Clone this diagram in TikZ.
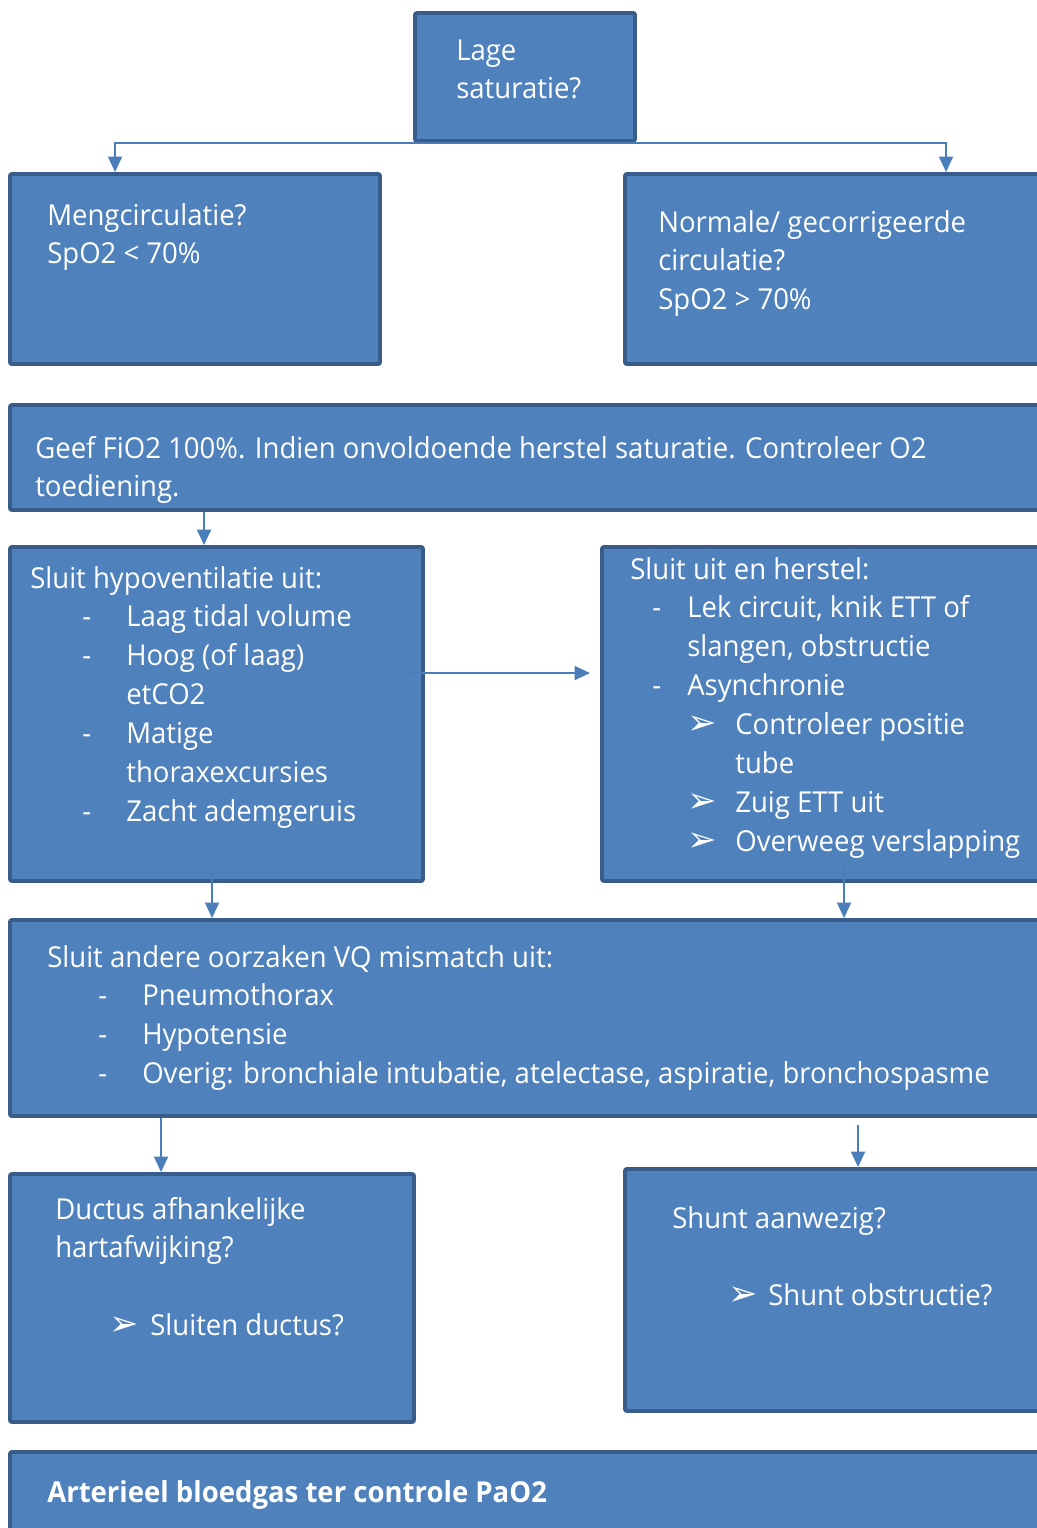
\documentclass[tikz,border=0pt]{standalone}
\usepackage{fontspec}
\setmainfont[FakeStretch=0.955]{Open Sans}
\newfontfamily\symfont{DejaVu Sans}
\usetikzlibrary{arrows.meta,positioning,calc,fit}
\definecolor{boxFill}{HTML}{4F81BD}
\definecolor{boxLine}{HTML}{385D8A}
\definecolor{connColor}{HTML}{4A7EBB}
\newcommand{\pijl}{{\symfont\fontsize{25}{27.7}\selectfont\char"27A2}}
\tikzset{
	flowbox/.style={draw=boxLine, fill=boxFill, line width=2.8pt, rounded corners=1.5pt, inner sep=0pt},
	boxtext/.style={text=white, inner sep=0pt, anchor=base west, font=\fontsize{20.5}{27.7}\selectfont},
	conn/.style={draw=connColor, line width=1.2pt, -{Triangle[width=10pt,length=11pt]}}
}

\begin{document}
\begin{tikzpicture}[x=0.025cm, y=-0.025cm]
	\useasboundingbox (0,0) rectangle (1037,1528);
	\clip (0,0) rectangle (1037,1528);
	% boxes
	\node[flowbox, fit={(415,13)(635,141)}] (lage) {};
	\node[flowbox, fit={(10,174)(380,364)}] (meng) {};
	\node[flowbox, fit={(625,174)(1050,364)}] (normaal) {};
	\node[flowbox, fit={(10,405)(1050,510)}] (geef) {};
	\node[flowbox, fit={(10,547)(423,881)}] (hypo) {};
	\node[flowbox, fit={(602,547)(1050,881)}] (uit) {};
	\node[flowbox, fit={(10,920)(1050,1116)}] (andere) {};
	\node[flowbox, fit={(10,1174)(414,1422)}] (ductus) {};
	\node[flowbox, fit={(625,1169)(1050,1411)}] (shunt) {};
	\node[flowbox, fit={(10,1452)(1050,1540)}] (abg) {};
	% texts
	\node[boxtext] (lageT) at (456,60) {\begin{tabular}[t]{@{}l@{}} Lage \\ saturatie?\end{tabular}};
	\node[boxtext] (mengT) at (47,225) {\begin{tabular}[t]{@{}l@{}} Mengcirculatie? \\ SpO2 < 70\%\end{tabular}};
	\node[boxtext] (normaalT) at (658,232) {\begin{tabular}[t]{@{}l@{}} Normale/ gecorrigeerde \\ circulatie? \\ SpO2 > 70\%\end{tabular}};
	\node[boxtext] (geefT) at (35,458) {\begin{tabular}[t]{@{}l@{}} Geef FiO2 100\%. Indien onvoldoende herstel saturatie. Controleer O2 \\ toediening.\end{tabular}};
	\node[boxtext] (hypoT) at (30,588) {\begin{tabular}[t]{@{}p{1.3cm}@{}p{1.1cm}@{}l@{}}
			\multicolumn{3}{@{}l@{}}{Sluit hypoventilatie uit:}\\
			& - & Laag tidal volume\\
			& - & Hoog (of laag)\\
			& & etCO2\\
			& - & Matige\\
			& & thoraxexcursies\\
			& - & Zacht ademgeruis
	\end{tabular}};
	\node[boxtext] (uitT) at (630,579) {\begin{tabular}[t]{@{}p{0.55cm}@{}p{0.875cm}@{}p{1.2cm}@{}l@{}}
			\multicolumn{4}{@{}l@{}}{Sluit uit en herstel:}\\
			& - & \multicolumn{2}{@{}l@{}}{Lek circuit, knik ETT of}\\
			& & \multicolumn{2}{@{}l@{}}{slangen, obstructie}\\
			& - & \multicolumn{2}{@{}l@{}}{Asynchronie}\\
			& & \pijl & Controleer positie\\
			& & & tube\\
			& & \pijl & Zuig ETT uit\\
			& & \pijl & Overweeg verslapping
	\end{tabular}};
	\node[boxtext] (andereT) at (47,967) {\begin{tabular}[t]{@{}p{1.275cm}@{}p{1.1cm}@{}l@{}}
			\multicolumn{3}{@{}l@{}}{Sluit andere oorzaken VQ mismatch uit:}\\
			& - & Pneumothorax\\
			& - & Hypotensie\\
			& - & Overig: bronchiale intubatie, atelectase, aspiratie, bronchospasme
	\end{tabular}};
	\node[boxtext] (ductusT) at (55,1219) {\begin{tabular}[t]{@{}p{1.35cm}@{}p{1.025cm}@{}l@{}}
			\multicolumn{3}{@{}l@{}}{Ductus afhankelijke}\\
			\multicolumn{3}{@{}l@{}}{hartafwijking?}\\
			\\
			& \pijl & Sluiten ductus?
	\end{tabular}};
	\node[boxtext] (shuntT) at (672,1228) {\begin{tabular}[t]{@{}p{1.4cm}@{}p{1.0cm}@{}l@{}}
			\multicolumn{3}{@{}l@{}}{Shunt aanwezig?}\\
			\\
			& \pijl & Shunt obstructie?
	\end{tabular}};
	\node[boxtext, font=\fontsize{20.5}{27.7}\selectfont\bfseries] (abgT) at (47,1502) {Arterieel bloedgas ter controle PaO2};
	% connectors
	\draw[conn] (lage.south) -| ($(meng.north west)+(107,0)$);
	\draw[conn] (lage.south) -| ($(normaal.north west)+(323,0)$);
	\draw[conn] ($(geef.south west)+(196,0)$) coordinate (g1) -- (g1 |- hypo.north);
	\draw[conn] ($(hypo.north east)+(-18,128)$) coordinate (h1) -- ($(h1 -| uit.west)+(-10,0)$);
	\draw[conn] ($(hypo.south west)+(204,-15)$) coordinate (h2) -- (h2 |- andere.north);
	\draw[conn] ($(uit.south west)+(244,-18)$) coordinate (u1) -- (u1 |- andere.north);
	\draw[conn] ($(andere.south west)+(153,0)$) coordinate (a1) -- (a1 |- ductus.north);
	\draw[conn] ($(andere.south west)+(850,7)$) coordinate (a2) -- (a2 |- shunt.north);
\end{tikzpicture}
\end{document}
